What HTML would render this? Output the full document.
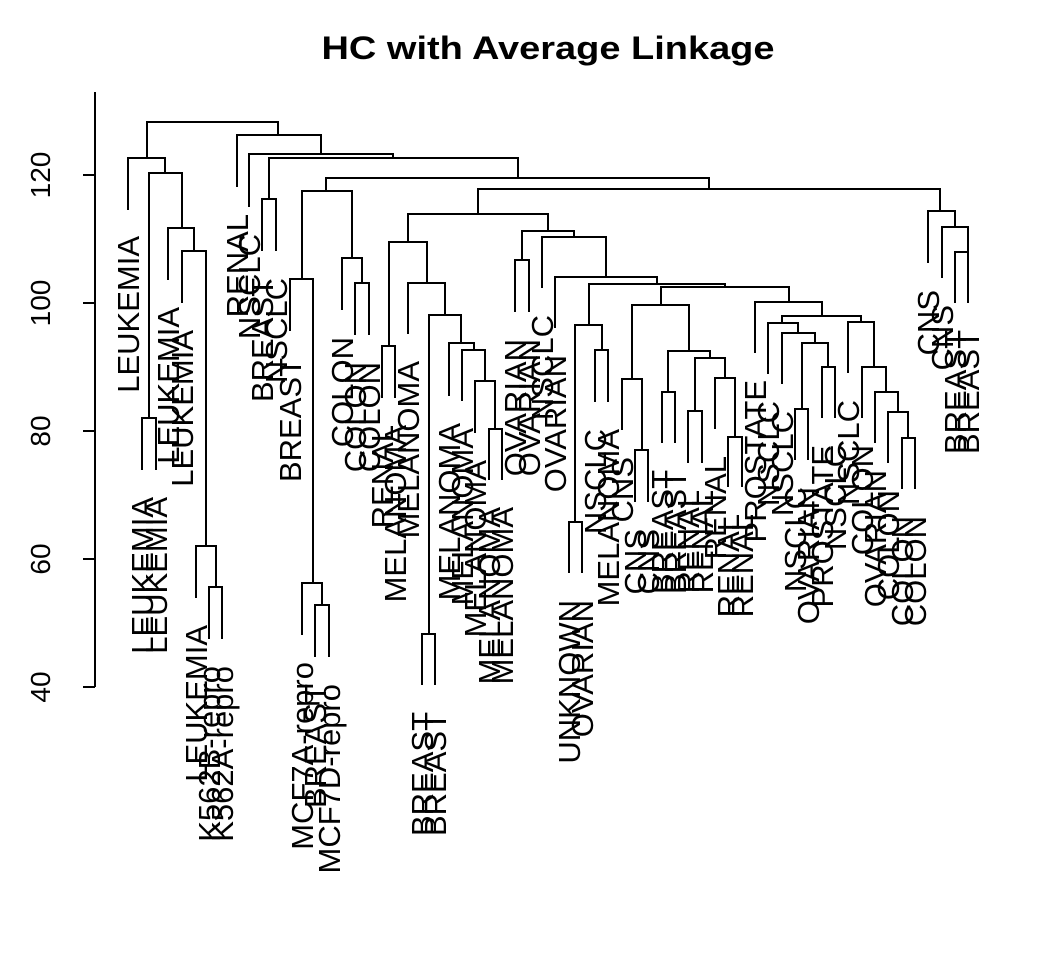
<!DOCTYPE html>
<html><head><meta charset="utf-8"><style>
html,body{margin:0;padding:0;background:#fff;}
svg{display:block;}
text{font-family:"Liberation Sans",Arial,sans-serif;fill:#000;}
</style></head><body>
<svg width="1056" height="960" viewBox="0 0 1056 960" xmlns="http://www.w3.org/2000/svg">
<rect width="1056" height="960" fill="#fff"/>
<text x="548" y="59" text-anchor="middle" font-size="32" font-weight="bold" textLength="453" lengthAdjust="spacingAndGlyphs">HC with Average Linkage</text>
<g stroke="#000" stroke-width="2" fill="none">
<path d="M95,92 V687"/>
<path d="M83,687 H95 M83,559 H95 M83,431 H95 M83,303 H95 M83,175 H95"/>
<path d="M147,158 V122 H278 V135"/>
<path d="M128,210 V158 H165 V173"/>
<path d="M149,418 V173 H182 V228"/>
<path d="M142,470 V418 H156 V470"/>
<path d="M168,280 V228 H194 V251"/>
<path d="M182,303 V251 H206 V546"/>
<path d="M196,598 V546 H216 V587"/>
<path d="M209,639 V587 H222 V639"/>
<path d="M237,187 V135 H321 V154"/>
<path d="M249,207 V154 H393 V158"/>
<path d="M269,199 V158 H518 V178"/>
<path d="M262,251 V199 H276 V251"/>
<path d="M326,191 V178 H709 V189"/>
<path d="M302,279 V191 H352 V258"/>
<path d="M290,331 V279 H313 V583"/>
<path d="M302,635 V583 H322 V605"/>
<path d="M315,657 V605 H329 V657"/>
<path d="M342,310 V258 H362 V283"/>
<path d="M355,335 V283 H369 V335"/>
<path d="M478,214 V189 H940 V211"/>
<path d="M408,242 V214 H548 V231"/>
<path d="M389,346 V242 H427 V283"/>
<path d="M382,398 V346 H395 V398"/>
<path d="M408,334 V283 H445 V315"/>
<path d="M429,634 V315 H461 V343"/>
<path d="M422,685 V634 H435 V685"/>
<path d="M449,396 V343 H474 V350"/>
<path d="M462,401 V350 H485 V381"/>
<path d="M475,433 V381 H495 V429"/>
<path d="M489,480 V429 H502 V480"/>
<path d="M522,260 V231 H574 V237"/>
<path d="M515,312 V260 H529 V312"/>
<path d="M542,288 V237 H606 V277"/>
<path d="M555,328 V277 H657 V284"/>
<path d="M589,325 V284 H725 V287"/>
<path d="M575,522 V325 H602 V350"/>
<path d="M569,573 V522 H582 V573"/>
<path d="M595,402 V350 H608 V402"/>
<path d="M661,305 V287 H789 V302"/>
<path d="M632,379 V305 H689 V351"/>
<path d="M622,430 V379 H642 V450"/>
<path d="M635,502 V450 H648 V502"/>
<path d="M668,392 V351 H710 V358"/>
<path d="M662,443 V392 H675 V443"/>
<path d="M695,411 V358 H725 V378"/>
<path d="M688,463 V411 H702 V463"/>
<path d="M715,429 V378 H735 V437"/>
<path d="M728,487 V437 H742 V487"/>
<path d="M755,353 V302 H822 V316"/>
<path d="M782,323 V316 H861 V322"/>
<path d="M768,374 V323 H798 V333"/>
<path d="M782,384 V333 H815 V343"/>
<path d="M802,409 V343 H828 V367"/>
<path d="M795,460 V409 H808 V460"/>
<path d="M822,418 V367 H835 V418"/>
<path d="M848,373 V322 H874 V367"/>
<path d="M862,418 V367 H886 V392"/>
<path d="M875,443 V392 H898 V412"/>
<path d="M888,463 V412 H908 V438"/>
<path d="M902,489 V438 H915 V489"/>
<path d="M928,263 V211 H955 V227"/>
<path d="M942,278 V227 H968 V252"/>
<path d="M955,303 V252 H968 V303"/>
</g>
<g font-size="28" text-anchor="middle">
<text transform="translate(50,687) rotate(-90)">40</text>
<text transform="translate(50,559) rotate(-90)">60</text>
<text transform="translate(50,431) rotate(-90)">80</text>
<text transform="translate(50,303) rotate(-90)">100</text>
<text transform="translate(50,175) rotate(-90)">120</text>
</g>
<g font-size="31" text-anchor="end">
<text transform="translate(139,236) rotate(-90)">LEUKEMIA</text>
<text transform="translate(153,497) rotate(-90)">LEUKEMIA</text>
<text transform="translate(167,497) rotate(-90)">LEUKEMIA</text>
<text transform="translate(179,307) rotate(-90)">LEUKEMIA</text>
<text transform="translate(193,330) rotate(-90)">LEUKEMIA</text>
<text transform="translate(207,625) rotate(-90)">LEUKEMIA</text>
<text transform="translate(220,666) rotate(-90)">K562B-repro</text>
<text transform="translate(233,666) rotate(-90)">K562A-repro</text>
<text transform="translate(248,214) rotate(-90)">RENAL</text>
<text transform="translate(260,234) rotate(-90)">NSCLC</text>
<text transform="translate(273,278) rotate(-90)">BREAST</text>
<text transform="translate(287,278) rotate(-90)">NSCLC</text>
<text transform="translate(301,358) rotate(-90)">BREAST</text>
<text transform="translate(313,662) rotate(-90)">MCF7A-repro</text>
<text transform="translate(326,684) rotate(-90)">BREAST</text>
<text transform="translate(340,684) rotate(-90)">MCF7D-repro</text>
<text transform="translate(353,337) rotate(-90)">COLON</text>
<text transform="translate(366,362) rotate(-90)">COLON</text>
<text transform="translate(380,362) rotate(-90)">COLON</text>
<text transform="translate(393,425) rotate(-90)">RENAL</text>
<text transform="translate(406,425) rotate(-90)">MELANOMA</text>
<text transform="translate(419,361) rotate(-90)">MELANOMA</text>
<text transform="translate(433,712) rotate(-90)">BREAST</text>
<text transform="translate(446,712) rotate(-90)">BREAST</text>
<text transform="translate(460,423) rotate(-90)">MELANOMA</text>
<text transform="translate(473,428) rotate(-90)">MELANOMA</text>
<text transform="translate(486,460) rotate(-90)">MELANOMA</text>
<text transform="translate(500,507) rotate(-90)">MELANOMA</text>
<text transform="translate(513,507) rotate(-90)">MELANOMA</text>
<text transform="translate(526,339) rotate(-90)">OVARIAN</text>
<text transform="translate(540,339) rotate(-90)">OVARIAN</text>
<text transform="translate(553,315) rotate(-90)">NSCLC</text>
<text transform="translate(566,355) rotate(-90)">OVARIAN</text>
<text transform="translate(580,600) rotate(-90)">UNKNOWN</text>
<text transform="translate(593,600) rotate(-90)">OVARIAN</text>
<text transform="translate(606,429) rotate(-90)">NSCLC</text>
<text transform="translate(619,429) rotate(-90)">MELANOMA</text>
<text transform="translate(633,457) rotate(-90)">CNS</text>
<text transform="translate(646,529) rotate(-90)">CNS</text>
<text transform="translate(659,529) rotate(-90)">CNS</text>
<text transform="translate(673,470) rotate(-90)">BREAST</text>
<text transform="translate(686,470) rotate(-90)">BREAST</text>
<text transform="translate(699,490) rotate(-90)">RENAL</text>
<text transform="translate(713,490) rotate(-90)">RENAL</text>
<text transform="translate(726,456) rotate(-90)">RENAL</text>
<text transform="translate(739,514) rotate(-90)">RENAL</text>
<text transform="translate(753,514) rotate(-90)">RENAL</text>
<text transform="translate(766,380) rotate(-90)">PROSTATE</text>
<text transform="translate(779,401) rotate(-90)">NSCLC</text>
<text transform="translate(793,411) rotate(-90)">NSCLC</text>
<text transform="translate(806,487) rotate(-90)">NSCLC</text>
<text transform="translate(819,487) rotate(-90)">OVARIAN</text>
<text transform="translate(833,445) rotate(-90)">PROSTATE</text>
<text transform="translate(846,445) rotate(-90)">NSCLC</text>
<text transform="translate(859,400) rotate(-90)">NSCLC</text>
<text transform="translate(873,445) rotate(-90)">COLON</text>
<text transform="translate(886,470) rotate(-90)">OVARIAN</text>
<text transform="translate(899,490) rotate(-90)">COLON</text>
<text transform="translate(913,516) rotate(-90)">COLON</text>
<text transform="translate(926,516) rotate(-90)">COLON</text>
<text transform="translate(939,290) rotate(-90)">CNS</text>
<text transform="translate(953,305) rotate(-90)">CNS</text>
<text transform="translate(966,330) rotate(-90)">BREAST</text>
<text transform="translate(979,330) rotate(-90)">BREAST</text>
</g>
</svg>
</body></html>
